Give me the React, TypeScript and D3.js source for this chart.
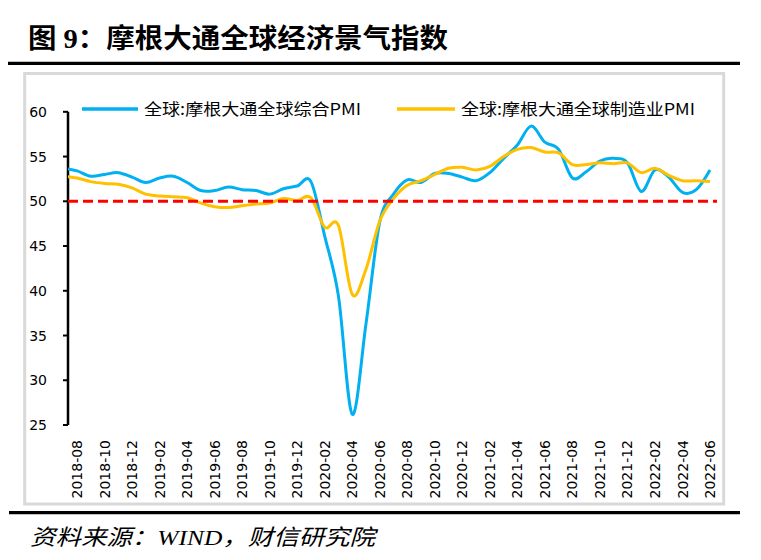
import React from "react";
import * as d3 from "d3";

// Months 2018-07 .. 2022-06
const months: string[] = [
  "2018-07","2018-08","2018-09","2018-10","2018-11","2018-12",
  "2019-01","2019-02","2019-03","2019-04","2019-05","2019-06",
  "2019-07","2019-08","2019-09","2019-10","2019-11","2019-12",
  "2020-01","2020-02","2020-03","2020-04","2020-05","2020-06",
  "2020-07","2020-08","2020-09","2020-10","2020-11","2020-12",
  "2021-01","2021-02","2021-03","2021-04","2021-05","2021-06",
  "2021-07","2021-08","2021-09","2021-10","2021-11","2021-12",
  "2022-01","2022-02","2022-03","2022-04","2022-05","2022-06",
];

const compositePMI: number[] = [
  53.7, 53.4, 52.8, 53.0, 53.2, 52.7,
  52.1, 52.6, 52.8, 52.1, 51.2, 51.2,
  51.6, 51.3, 51.2, 50.8, 51.4, 51.7,
  52.2, 46.1, 39.4, 26.2, 36.3, 47.7,
  50.8, 52.4, 52.1, 53.1, 53.1, 52.7,
  52.3, 53.2, 54.8, 56.3, 58.4, 56.6,
  55.8, 52.6, 53.3, 54.5, 54.8, 54.3,
  51.1, 53.5, 52.7, 51.0, 51.3, 53.5,
];

const manufacturingPMI: number[] = [
  52.8, 52.6, 52.2, 52.0, 51.9, 51.5,
  50.8, 50.6, 50.5, 50.4, 49.8, 49.4,
  49.3, 49.5, 49.7, 49.8, 50.3, 50.1,
  50.4, 47.1, 47.3, 39.6, 42.4, 47.8,
  50.3, 51.8, 52.3, 53.0, 53.7, 53.8,
  53.5, 53.9, 55.0, 55.8, 56.0, 55.5,
  55.4, 54.1, 54.1, 54.3, 54.2, 54.3,
  53.2, 53.7, 52.9, 52.3, 52.3, 52.2,
];

const xTickLabels: string[] = [
  "2018-08","2018-10","2018-12","2019-02","2019-04","2019-06",
  "2019-08","2019-10","2019-12","2020-02","2020-04","2020-06",
  "2020-08","2020-10","2020-12","2021-02","2021-04","2021-06",
  "2021-08","2021-10","2021-12","2022-02","2022-04","2022-06",
];

const yTicks: number[] = [25, 30, 35, 40, 45, 50, 55, 60];
const seriesNames: string[] = ["全球:摩根大通全球综合PMI", "全球:摩根大通全球制造业PMI"];
const referenceLevel = 50;

const title = "图 9：摩根大通全球经济景气指数";
const source = "资料来源：WIND，财信研究院";

const BLUE = "#00B0F0";
const ORANGE = "#FFC000";
const RED = "#FF0000";

export default function App() {
  const W = 761, H = 560;
  const plotLeft = 68, plotRight = 717, plotTop = 90, plotBottom = 425;

  const x = d3.scaleLinear().domain([1, months.length - 1]).range([77, 710]);
  const y = d3.scaleLinear().domain([25, 60]).range([425, 111.8]);

  const line = d3
    .line<number>()
    .x((_, i) => x(i))
    .y((d) => y(d))
    .curve(d3.curveCatmullRom.alpha(0));

  const tickFont = "'DejaVu Sans', Verdana, sans-serif";
  const cjkFont = "'Noto Sans CJK SC', 'Noto Sans', sans-serif";

  return (
    <svg
      width={W}
      height={H}
      viewBox={`0 0 ${W} ${H}`}
      style={{ position: "absolute", left: 0, top: 0, background: "#fff" }}
    >
      <defs>
        <clipPath id="plotClip">
          <rect x={plotLeft} y={plotTop - 30} width={plotRight - plotLeft} height={plotBottom - plotTop + 40} />
        </clipPath>
      </defs>

      {/* Title */}
      <text
        x={28}
        y={48}
        fontSize={27}
        fontWeight="bold"
        fontFamily={"'Liberation Serif', 'Noto Sans CJK SC', serif"}
        fill="#000"
        textLength={420}
        lengthAdjust="spacingAndGlyphs"
      >
        {title}
      </text>
      <line x1={8} x2={740} y1={63.3} y2={63.3} stroke="#000" strokeWidth={3.2} />

      {/* Chart frame */}
      <rect x={24.7} y={73.5} width={699} height={430.5} fill="#fff" stroke="#d9d9d9" strokeWidth={3} />

      {/* Y axis */}
      <line x1={plotLeft} x2={plotLeft} y1={y(60)} y2={y(25)} stroke="#000" strokeWidth={2.5} />
      {yTicks.map((t) => (
        <g key={t}>
          <line x1={plotLeft - 5} x2={plotLeft} y1={y(t)} y2={y(t)} stroke="#000" strokeWidth={2} />
          <text
            x={47}
            y={y(t)}
            dy="0.36em"
            textAnchor="end"
            fontSize={14}
            fontFamily={tickFont}
            fill="#000"
          >
            {t}
          </text>
        </g>
      ))}

      {/* X tick labels */}
      {xTickLabels.map((lab) => {
        const idx = months.indexOf(lab);
        const cx = x(idx);
        return (
          <text
            key={lab}
            transform={`translate(${cx},440) rotate(-90)`}
            textAnchor="end"
            dy="0.36em"
            fontSize={14}
            fontFamily={tickFont}
            fill="#000"
          >
            {lab}
          </text>
        );
      })}

      {/* Series */}
      <g clipPath="url(#plotClip)">
        <path d={line(compositePMI) || ""} fill="none" stroke={BLUE} strokeWidth={3} strokeLinejoin="round" />
        <path d={line(manufacturingPMI) || ""} fill="none" stroke={ORANGE} strokeWidth={3} strokeLinejoin="round" />
      </g>

      {/* 50 reference line */}
      <line
        x1={plotLeft}
        x2={plotRight}
        y1={y(referenceLevel)}
        y2={y(referenceLevel)}
        stroke={RED}
        strokeWidth={3}
        strokeDasharray="10,5"
      />

      {/* Legend */}
      <line x1={82} x2={138} y1={109} y2={109} stroke={BLUE} strokeWidth={3.5} />
      <text x={144} y={109} dy="0.36em" fontSize={16} fontFamily={cjkFont} fill="#000" textLength={217} lengthAdjust="spacingAndGlyphs">
        {seriesNames[0]}
      </text>
      <line x1={397} x2={455} y1={109} y2={109} stroke={ORANGE} strokeWidth={3.5} />
      <text x={461} y={109} dy="0.36em" fontSize={16} fontFamily={cjkFont} fill="#000" textLength={234} lengthAdjust="spacingAndGlyphs">
        {seriesNames[1]}
      </text>

      {/* Bottom rule and source */}
      <line x1={9} x2={740} y1={512.7} y2={512.7} stroke="#000" strokeWidth={3.3} />
      <text
        x={30}
        y={545}
        fontSize={22}
        fontStyle="italic"
        fontFamily={"'Liberation Serif', 'Noto Sans CJK SC', serif"}
        fill="#000"
        textLength={345}
        lengthAdjust="spacingAndGlyphs"
      >
        {source}
      </text>
    </svg>
  );
}
